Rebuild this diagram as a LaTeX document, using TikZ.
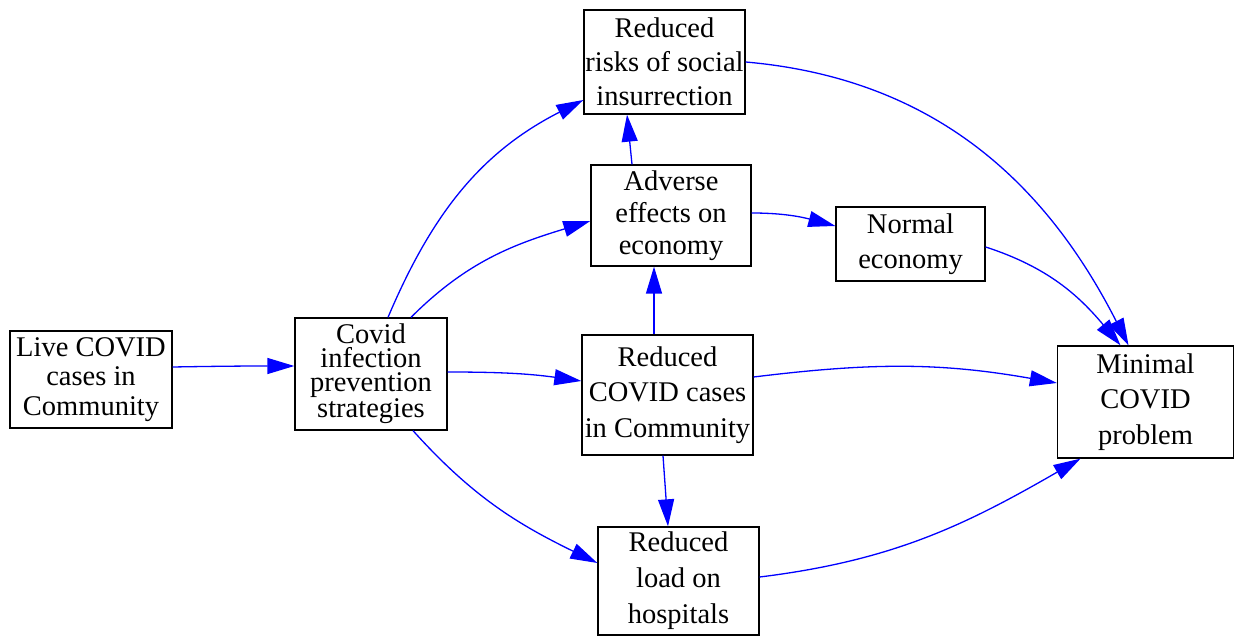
\documentclass[tikz,border=0pt]{standalone}
\usepackage{fontspec}
\setmainfont{LiberationSerif}[Extension=.ttf, UprightFont=*-Regular, BoldFont=*-Bold, ItalicFont=*-Italic, BoldItalicFont=*-BoldItalic, Ligatures=TeX]
\usetikzlibrary{arrows.meta}
\begin{document}
\begin{tikzpicture}[x=1pt,y=1pt,
  box/.style={draw, line width=1.3pt, rectangle, inner sep=0pt, align=center},
  fs/.style={font=\rmfamily\fontsize{28.5}{#1}\selectfont},
  link/.style={draw=blue, line width=1.3pt, -{Triangle[length=27pt,width=16pt]}}]
\useasboundingbox (0,0) rectangle (1234,635);

% nodes
\node[box, fs=29.5, minimum width=162pt, minimum height=97pt] (live) at (91,255.5) {Live COVID\\cases in\\Community};
\node[box, fs=24, minimum width=152pt, minimum height=112pt] (covid) at (371,261) {Covid\\infection\\prevention\\strategies};
\node[box, fs=34, minimum width=161pt, minimum height=104pt] (risks) at (664.5,573) {Reduced\\risks of social\\insurrection};
\node[box, fs=32, minimum width=160pt, minimum height=101pt] (adverse) at (671,419.5) {Adverse\\effects on\\economy};
\node[box, fs=35, minimum width=149pt, minimum height=74pt] (normal) at (910.5,391) {Normal\\economy};
\node[box, fs=35.5, minimum width=171pt, minimum height=120pt] (reduced) at (667.5,240) {Reduced\\COVID cases\\in Community};
\node[box, fs=35.5, minimum width=176pt, minimum height=112pt] (minimal) at (1145.5,233) {Minimal\\COVID\\problem};
\node[box, fs=36, minimum width=161pt, minimum height=108pt] (load) at (678.5,54) {Reduced\\load on\\hospitals};

% connectors
\draw[link] ([yshift=12.5pt]live.east) to[out=1,in=180] ([yshift=8pt]covid.west);
\draw[link] ([xshift=17pt]covid.north) to[out=67,in=-153] ([yshift=-38pt]risks.west);
\draw[link] ([xshift=40pt]covid.north) to[out=45,in=-163] ([yshift=-5.5pt]adverse.west);
\draw[link] ([yshift=2pt]covid.east) to[out=0,in=172] ([yshift=14pt]reduced.west);
\draw[link] ([xshift=42pt]covid.south) to[out=-48,in=154] ([yshift=18pt]load.west);
\draw[link] ([xshift=-39pt]adverse.north) -- ([xshift=-37.5pt]risks.south);
\draw[link] ([xshift=-13.5pt]reduced.north) -- ([xshift=-17pt]adverse.south);
\draw[link] ([yshift=2.5pt]adverse.east) to[out=0,in=165] ([yshift=18pt]normal.west);
\draw[link] ([xshift=-4.5pt]reduced.south) -- ([xshift=-10.5pt]load.north);
\draw[link] (risks.east) to[out=-5,in=117] ([xshift=-17pt]minimal.north);
\draw[link] ([yshift=-3pt]normal.east) to[out=-18,in=130] ([xshift=-25pt]minimal.north);
\draw[link] ([yshift=18pt]reduced.east) to[out=7,in=170] ([yshift=19pt]minimal.west);
\draw[link] ([yshift=4pt]load.east) to[out=7,in=-150] ([xshift=-65pt]minimal.south);
\end{tikzpicture}
\end{document}
